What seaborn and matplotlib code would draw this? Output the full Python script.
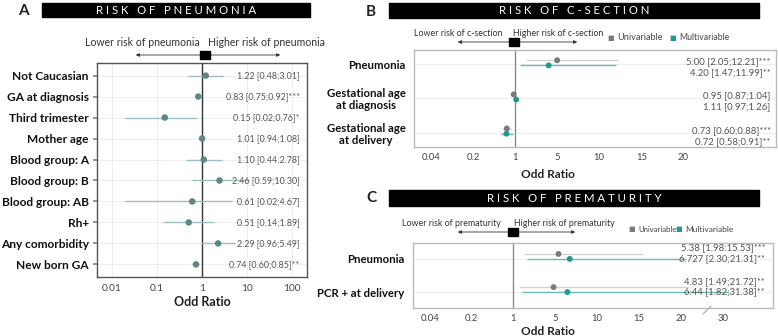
import numpy as np
import pandas as pd
import seaborn as sns
import matplotlib.pyplot as plt
from matplotlib.patches import Rectangle, FancyArrowPatch
from matplotlib.lines import Line2D
from matplotlib.scale import FuncScale

# ---- panel A: risk of pneumonia
labels_a = ["Not Caucasian", "GA at diagnosis", "Third trimester", "Mother age",
            "Blood group: A", "Blood group: B", "Blood group: AB", "Rh+",
            "Any comorbidity", "New born GA"]
or_a = [1.22, 0.83, 0.15, 1.01, 1.10, 2.46, 0.61, 0.51, 2.29, 0.74]
lo_a = [0.48, 0.75, 0.02, 0.94, 0.44, 0.59, 0.02, 0.14, 0.96, 0.60]
hi_a = [3.01, 0.92, 0.76, 1.08, 2.78, 10.30, 4.67, 1.89, 5.49, 0.85]
txt_a = ["1.22 [0.48;3.01]", "0.83 [0.75;0.92]***", "0.15 [0.02;0.76]*",
         "1.01 [0.94;1.08]", "1.10 [0.44;2.78]", "2.46 [0.59;10.30]",
         "0.61 [0.02;4.67]", "0.51 [0.14;1.89]", "2.29 [0.96;5.49]",
         "0.74 [0.60;0.85]**"]
ticks_a = [0.01, 0.1, 1, 10, 100]
ticklabels_a = ["0.01", "0.1", "1", "10", "100"]

# ---- panel B: risk of c-section
labels_b = ["Pneumonia", "Gestational age\nat diagnosis", "Gestational age\nat delivery"]
uni_b = [5.00, 0.95, 0.73]
uni_lo_b = [2.05, 0.87, 0.60]
uni_hi_b = [12.21, 1.04, 0.88]
uni_txt_b = ["5.00 [2.05;12.21]***", "0.95 [0.87;1.04]", "0.73 [0.60;0.88]***"]
multi_b = [4.20, 1.11, 0.72]
multi_lo_b = [1.47, 0.97, 0.58]
multi_hi_b = [11.99, 1.26, 0.91]
multi_txt_b = ["4.20 [1.47;11.99]**", "1.11 [0.97;1.26]", "0.72 [0.58;0.91]**"]
ticks_b = [0.04, 0.2, 1, 5, 10, 15, 20]

# ---- panel C: risk of prematurity
labels_c = ["Pneumonia", "PCR + at delivery"]
uni_c = [5.38, 4.83]
uni_lo_c = [1.98, 1.49]
uni_hi_c = [15.53, 21.72]
uni_txt_c = ["5.38 [1.98:15.53]***", "4.83 [1.49;21.72]**"]
multi_c = [6.727, 6.44]
multi_lo_c = [2.30, 1.82]
multi_hi_c = [21.31, 31.38]
multi_txt_c = ["6.727 [2.30;21.31]**", "6.44 [1.82;31.38]**"]
ticks_c = [0.04, 0.2, 1, 5, 10, 15, 20, 30]

W, H = 778, 336
FONT = ["Lato", "DejaVu Sans"]
GREY = "#7a7a7a"
TEAL = "#1f9a90"

sns.set_theme(style="whitegrid")
plt.rcParams["font.family"] = FONT
plt.rcParams["axes.edgecolor"] = "#555555"


def fx(x):
    return x / W


def fy(y):
    return 1 - y / H


# broken axis used in B and C: log below 1, then equal steps 1-5-10-15-20-30
KX = [1, 5, 10, 15, 20, 30, 130]
KP = [2, 3, 4, 5, 6, 7, 17]


def fwd(x):
    x = np.clip(np.asarray(x, dtype=float), 1e-6, None)
    return np.where(x < 1, 2 + np.log(x) / np.log(5), np.interp(x, KX, KP))


def inv(p):
    p = np.asarray(p, dtype=float)
    return np.where(p < 2, 5.0 ** (p - 2), np.interp(p, KP, KX))


fig = plt.figure(figsize=(W / 100, H / 100), dpi=100)


def axes_px(left, top, right, bottom):
    return fig.add_axes([fx(left), fy(bottom), (right - left) / W, (bottom - top) / H])


def title_bar(letter, lx, ly, x0, x1, y0, y1, text):
    fig.text(fx(lx), fy(ly), letter, ha="center", va="center",
             fontsize=11, fontweight="bold", color="#222222")
    fig.add_artist(Rectangle((fx(x0), fy(y1)), (x1 - x0) / W, (y1 - y0) / H,
                             transform=fig.transFigure, color="black"))
    spaced = "   ".join(" ".join(w) for w in text.split())
    fig.text(fx((x0 + x1) / 2), fy((y0 + y1) / 2), spaced, ha="center", va="center",
             fontsize=8.2, color="white")


def header(xc, ytxt, yarr, x0, x1, lend, rstart, left, right, fs):
    fig.text(fx(lend), fy(ytxt), left, ha="right", va="center", fontsize=fs, color="#333333")
    fig.text(fx(rstart), fy(ytxt), right, ha="left", va="center", fontsize=fs, color="#333333")
    for xe in (x0, x1):
        fig.add_artist(FancyArrowPatch((fx(xc), fy(yarr)), (fx(xe), fy(yarr)),
                                       transform=fig.transFigure, arrowstyle="-|>",
                                       mutation_scale=5, lw=0.6, color="#333333"))
    fig.add_artist(Rectangle((fx(xc - 5), fy(yarr + 4)), 10 / W, 8 / H,
                             transform=fig.transFigure, color="black"))


def legend_items(y, items):
    for x, color, label, fs in items:
        fig.text(fx(x), fy(y), "■", ha="center", va="center", fontsize=5,
                 color=color, family="DejaVu Sans")
        fig.text(fx(x + 6), fy(y), label, ha="left", va="center", fontsize=fs, color="#444444")


# ------------------------------------------------------------ panel A
title_bar("A", 23, 11, 42, 310, 3, 17, "RISK OF PNEUMONIA")
header(205, 43, 55, 133, 283, 200, 208,
       "Lower risk of pneumonia", "Higher risk of pneumonia", 7.6)

ax = axes_px(97, 63, 307, 277)
df_a = pd.DataFrame({"label": labels_a, "or": or_a, "lo": lo_a, "hi": hi_a,
                     "row": np.arange(len(labels_a))})
ax.set_xscale("log")
ax.hlines(df_a["row"], df_a["lo"], df_a["hi"], color="#9fc0be", lw=1, zorder=2)
sns.scatterplot(data=df_a, x="or", y="row", ax=ax, color="#5d8785", s=22,
                edgecolor="none", zorder=3, legend=False)
ax.axvline(1, color="#333333", lw=1, zorder=1)
for r, t in zip(df_a["row"], txt_a):
    ax.text(0.965, r, t, transform=ax.get_yaxis_transform(), ha="right", va="center",
            fontsize=6.4, color="#555555")
ax.set_xlim(0.0047, 215)
ax.set_ylim(len(labels_a) - 0.4, -0.6)
ax.set_xticks(ticks_a)
ax.set_xticklabels(ticklabels_a)
ax.xaxis.set_minor_locator(plt.NullLocator())
ax.set_yticks(df_a["row"])
ax.set_yticklabels(labels_a, fontsize=8.6, fontweight="bold", color="#111111")
ax.tick_params(axis="x", labelsize=7.3, labelcolor="#444444", length=2, pad=3)
ax.tick_params(axis="y", length=3, color="#888888", pad=3, left=True)
ax.grid(color="#eeeeee", lw=0.7)
ax.set_xlabel("Odd Ratio", fontsize=9, fontweight="bold", color="#222222", labelpad=2)
ax.set_ylabel("")
for s in ax.spines.values():
    s.set_color("#555555")
    s.set_linewidth(1)


# ------------------------------------------------------------ panels B and C
def panel_bc(ax, labels, uni, ulo, uhi, utxt, multi, mlo, mhi, mtxt, ticks,
             uoff, moff, utoff, mtoff, tx):
    rows = np.arange(len(labels))
    df = pd.DataFrame({
        "or": uni + multi,
        "lo": ulo + mlo,
        "hi": uhi + mhi,
        "model": ["Univariable"] * len(uni) + ["Multivariable"] * len(multi),
        "y": list(rows + uoff) + list(rows + moff),
    })
    ax.set_xscale(FuncScale(ax, (fwd, inv)))
    for model, color in (("Univariable", "#d2d2d2"), ("Multivariable", "#6dbab3")):
        d = df[df["model"] == model]
        ax.hlines(d["y"], d["lo"], d["hi"], color=color, lw=1, zorder=2)
    sns.scatterplot(data=df, x="or", y="y", hue="model", ax=ax, s=18,
                    palette={"Univariable": GREY, "Multivariable": TEAL},
                    edgecolor="none", zorder=3, legend=False)
    ax.axvline(1, color="#8a8a8a", lw=1, zorder=1)
    for r, a, b in zip(rows, utxt, mtxt):
        ax.text(tx, r + utoff, a, transform=ax.get_yaxis_transform(), ha="right",
                va="center", fontsize=6.8, color="#555555")
        ax.text(tx, r + mtoff, b, transform=ax.get_yaxis_transform(), ha="right",
                va="center", fontsize=6.8, color="#555555")
    ax.set_xlim(0.021, 42)
    ax.set_xticks(ticks)
    ax.set_xticklabels([f"{t:g}" for t in ticks])
    ax.xaxis.set_minor_locator(plt.NullLocator())
    ax.set_yticks(rows)
    ax.set_yticklabels(labels, fontsize=8.2, fontweight="bold", color="#111111",
                       multialignment="center", linespacing=1.1)
    ax.tick_params(axis="x", labelsize=6.8, labelcolor="#444444", length=0, pad=4)
    ax.tick_params(axis="y", length=0, pad=6)
    ax.grid(axis="x", visible=False)
    ax.grid(axis="y", color="#eeeeee", lw=0.7)
    ax.set_xlabel("Odd Ratio", fontsize=8.6, fontweight="bold", color="#222222")
    ax.set_ylabel("")
    for s in ax.spines.values():
        s.set_color("#bbbbbb")
        s.set_linewidth(1)


title_bar("B", 371, 12, 389, 759, 3, 18, "RISK OF C-SECTION")
header(514, 33, 42, 455, 580, 503, 513,
       "Lower risk of c-section", "Higher risk of c-section", 6.4)
legend_items(38, [(611, GREY, "Univariable", 6.6), (673, TEAL, "Multivariable", 6.2)])

axb = axes_px(414, 50, 776, 147)
panel_bc(axb, labels_b, uni_b, uni_lo_b, uni_hi_b, uni_txt_b,
         multi_b, multi_lo_b, multi_hi_b, multi_txt_b, ticks_b,
         -0.12, 0.03, -0.07, 0.25, 0.985)
axb.set_ylim(2.42, -0.42)
axb.xaxis.set_label_coords((548 - 414) / 362, -0.23)

title_bar("C", 371, 198, 389, 759, 190, 206, "RISK OF PREMATURITY")
header(513, 223, 232, 455, 578, 501, 514,
       "Lower risk of prematurity", "Higher risk of prematurity", 6.4)
legend_items(229, [(632, GREY, "Univariable", 5.6), (679, TEAL, "Multivariable", 6.0)])

axc = axes_px(413, 243, 773, 308)
panel_bc(axc, labels_c, uni_c, uni_lo_c, uni_hi_c, uni_txt_c,
         multi_c, multi_lo_c, multi_hi_c, multi_txt_c, ticks_c,
         -0.15, 0.0, -0.33, -0.02, 0.978)
axc.set_ylim(1.48, -0.48)
axc.xaxis.set_label_coords((548 - 413) / 360, -0.27)
# axis-break slash near 30
fig.add_artist(Line2D([fx(703), fx(711)], [fy(314), fy(306)], transform=fig.transFigure,
                      color="#aaaaaa", lw=0.8))

fig.savefig("out.png", dpi=100)
